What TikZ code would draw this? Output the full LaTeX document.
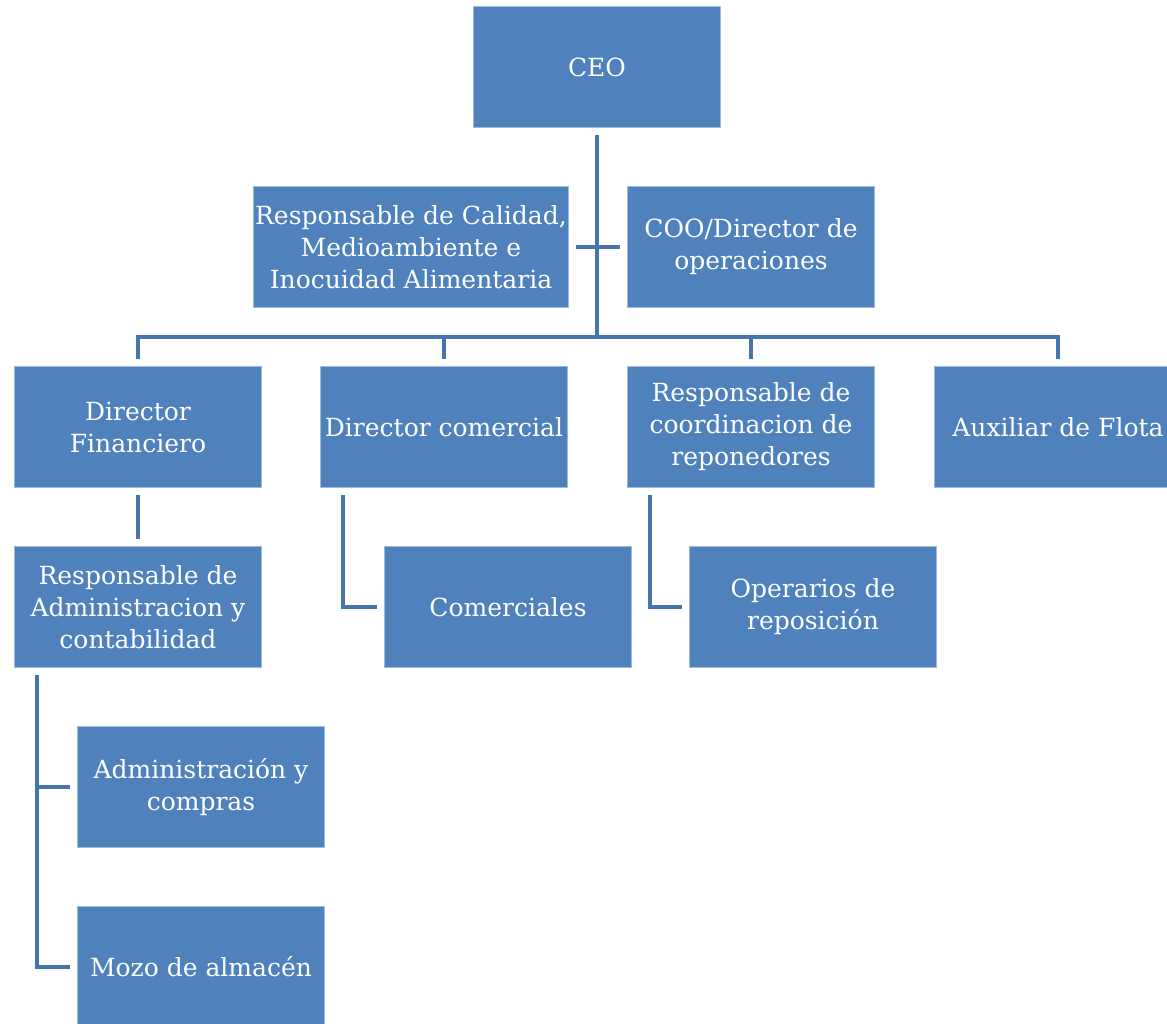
\documentclass[tikz,border=0pt]{standalone}
\usepackage{fontspec}
\setmainfont{DejaVu Serif}
\definecolor{cargoazul}{HTML}{4F81BD}
\definecolor{lineaazul}{HTML}{4675AB}

\begin{document}
\begin{tikzpicture}[x=1pt, y=-1pt,
  cargo/.style={draw=cargoazul!55!white, line width=0.8pt, fill=cargoazul, text=white, minimum width=247pt, minimum height=121pt, inner sep=2pt, align=center, font=\fontsize{25}{32}\selectfont},
  enlace/.style={draw=lineaazul, line width=4.5pt}]
\useasboundingbox (0,0) rectangle (1167,1023);
\clip (0,0) rectangle (1167,1023);
\node[cargo] (ceo) at (597,67) {CEO};
\node[cargo, minimum width=313pt] (calidad) at (411,247) {Responsable de Calidad,\\Medioambiente e\\Inocuidad Alimentaria};
\node[cargo] (coo) at (751,247) {COO/Director de\\operaciones};
\node[cargo] (fin) at (138,427) {Director\\Financiero};
\node[cargo] (com) at (444,427) {Director comercial};
\node[cargo] (coord) at (751,427) {Responsable de\\coordinacion de\\reponedores};
\node[cargo] (flota) at (1058,427) {Auxiliar de Flota};
\node[cargo] (admin) at (138,607) {Responsable de\\Administracion y\\contabilidad};
\node[cargo] (comer) at (508,607) {Comerciales};
\node[cargo] (oper) at (813,607) {Operarios de\\reposición};
\node[cargo] (compras) at (201,787) {Administración y\\compras};
\node[cargo] (mozo) at (201,967) {Mozo de almacén};
\coordinate (bus) at (597,337);
\draw[enlace] ([yshift=-7pt]ceo.south) -- (bus);
\draw[enlace] ([xshift=7pt]calidad.east) -- ([xshift=-7pt]coo.west);
\draw[enlace] ([yshift=7pt]fin.north) -- (fin.north |- bus) -- (flota.north |- bus) -- ([yshift=7pt]flota.north);
\foreach \n in {com, coord}
  \draw[enlace] (\n.north |- bus) -- ([yshift=7pt]\n.north);
\draw[enlace] ([yshift=-7pt]fin.south) -- ([yshift=7pt]admin.north);
\draw[enlace] ([xshift=23pt,yshift=-7pt]com.south west) |- ([xshift=-7pt]comer.west);
\draw[enlace] ([xshift=23pt,yshift=-7pt]coord.south west) |- ([xshift=-7pt]oper.west);
\coordinate (tronco) at ([xshift=23pt,yshift=-7pt]admin.south west);
\draw[enlace] (tronco) |- ([xshift=-7pt]mozo.west);
\draw[enlace] (tronco |- compras.west) -- ([xshift=-7pt]compras.west);
\end{tikzpicture}
\end{document}
